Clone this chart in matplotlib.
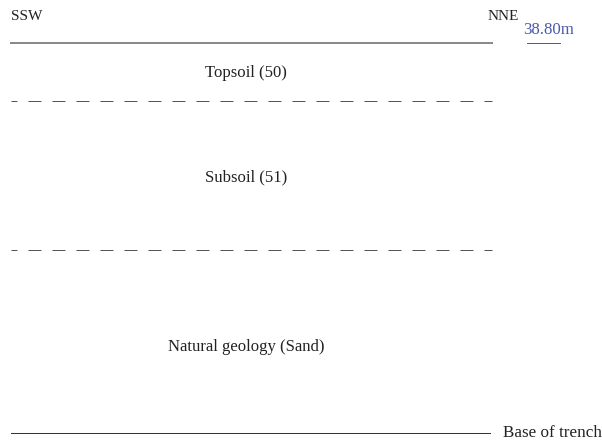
import matplotlib.pyplot as plt

# section drawing, units are pixels of the original figure (y down)
layer_names = ["Topsoil (50)", "Subsoil (51)", "Natural geology (Sand)"]
layer_label_y = [73, 177, 347]
boundary_y = [101, 250]          # dashed interfaces
surface_y = 43
base_y = 433
x_left, x_right = 11, 492
ends = ["SSW", "NNE"]
height_label = "38.80m"
base_label = "Base of trench"

W, H = 602, 447
plt.rcParams["font.family"] = ["Liberation Serif", "DejaVu Serif"]

fig = plt.figure(figsize=(W / 100, H / 100), dpi=100)
ax = fig.add_axes([0, 0, 1, 1])
ax.set_xlim(0, W)
ax.set_ylim(H, 0)
ax.axis("off")

px = 0.72  # points per pixel

ax.plot([x_left, x_right], [surface_y, surface_y], color="#8a8a8a", lw=2 * px)
for y in boundary_y:
    ax.plot([x_left, x_right], [y, y], color="#555555", lw=1 * px,
            linestyle=(7, (13, 11)), dash_capstyle="butt")
ax.plot([x_left, 490], [base_y, base_y], color="#333333", lw=1 * px)

for name, y in zip(layer_names, layer_label_y):
    ax.text(246, y, name, ha="center", va="center", fontsize=12, color="#222222")

ax.text(x_left, 17, ends[0], ha="left", va="center", fontsize=11, color="#222222")
ax.text(488, 16, ends[1], ha="left", va="center", fontsize=11, color="#222222")

ax.text(523, 30, height_label, ha="left", va="center", fontsize=12.2, color="#4a5bb0")
ax.plot([527, 560], [surface_y, surface_y], color="#4a5bb0", lw=1 * px)

ax.text(503, 433, base_label, ha="left", va="center", fontsize=12.3, color="#222222")

fig.savefig("out.png", dpi=100)
